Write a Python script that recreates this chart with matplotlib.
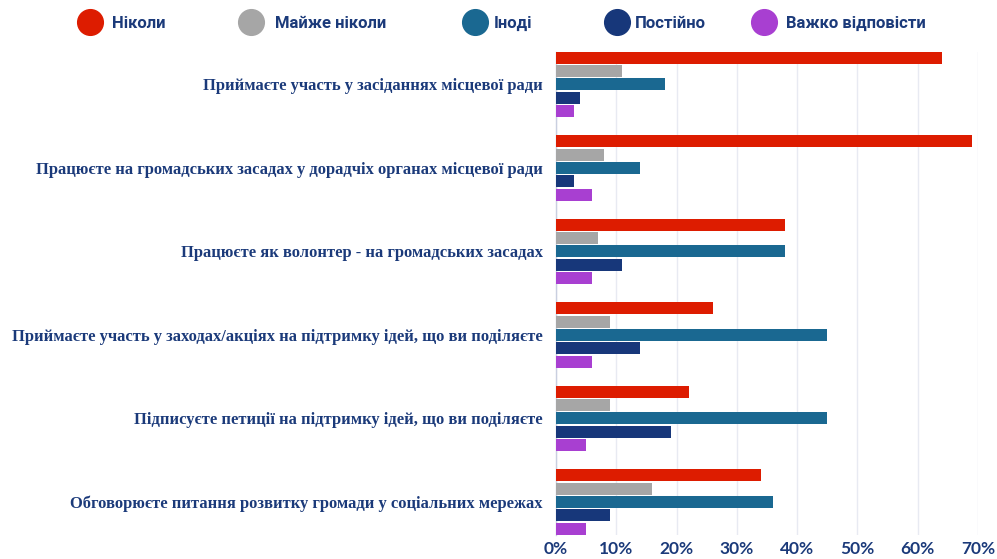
import numpy as np
import matplotlib
matplotlib.use('Agg')
import matplotlib.pyplot as plt
from matplotlib.lines import Line2D

# categories (top to bottom)
categories = [
    'Приймаєте участь у засіданнях місцевої ради',
    'Працюєте на громадських засадах у дорадчіх органах місцевої ради',
    'Працюєте як волонтер - на громадських засадах',
    'Приймаєте участь у заходах/акціях на підтримку ідей, що ви поділяєте',
    'Підписуєте петиції на підтримку ідей, що ви поділяєте',
    'Обговорюєте питання розвитку громади у соціальних мережах',
]

series_names = ['Ніколи', 'Майже ніколи', 'Іноді', 'Постійно', 'Важко відповісти']
nikoly = [64, 69, 38, 26, 22, 34]
mayzhe = [11, 8, 7, 9, 9, 16]
inodi = [18, 14, 38, 45, 45, 36]
postiyno = [4, 3, 11, 14, 19, 9]
vazhko = [3, 6, 6, 6, 5, 5]
series_values = [nikoly, mayzhe, inodi, postiyno, vazhko]

colors = ['#dd1c00', '#a6a6a6', '#1a6891', '#17377a', '#a83fd1']
xticks = [0, 10, 20, 30, 40, 50, 60, 70]
xtick_labels = ['0%', '10%', '20%', '30%', '40%', '50%', '60%', '70%']

text_color = '#1b3a7a'

fig = plt.figure(figsize=(9.97, 5.59), dpi=100)
ax = fig.add_axes([0.5577, 0.0438, 0.981 - 0.5577, 0.9073 - 0.0438])

pitch = 13.35 / 83.6
height = 12.0 / 83.6
y = np.arange(len(categories))
for i, (name, vals, c) in enumerate(zip(series_names, series_values, colors)):
    offs = (i - 2) * pitch
    ax.barh(y + offs, vals, height=height, color=c, label=name, zorder=3)

half = 2 * pitch + height / 2
ax.set_ylim(len(categories) - 1 + half, -half)
ax.set_xlim(0, 70)

ax.set_xticks(xticks)
ax.set_xticklabels(xtick_labels, fontfamily='Lato', fontweight='bold', fontsize=12.5, color=text_color)
ax.set_yticks(y)
ax.set_yticklabels(categories, fontfamily='Liberation Serif', fontweight='bold', fontsize=11.9, color=text_color)
ax.tick_params(axis='both', length=0)
ax.tick_params(axis='y', pad=9.4)
ax.tick_params(axis='x', pad=5)

ax.grid(axis='x', color='#e8eaf2', linewidth=1.0, zorder=0)
for s in ['top', 'right', 'bottom']:
    ax.spines[s].set_visible(False)
ax.spines['left'].set_color('#c9cfe0')
ax.spines['left'].set_linewidth(1)

# legend at the top, drawn by hand
leg_circle_x = [89.5, 250.5, 474.8, 616.6, 763.6]
leg_text_x = [112, 275, 494, 635, 786]
for cx, tx, name, c in zip(leg_circle_x, leg_text_x, series_names, colors):
    fig.add_artist(Line2D([cx / 997], [1 - 22 / 559], marker='o', markersize=18.5,
                          color=c, linestyle='none', transform=fig.transFigure))
    fig.text(tx / 997, 1 - 22 / 559, name, ha='left', va='center_baseline', fontfamily='Roboto',
             fontweight='bold', fontsize=12, color=text_color)

fig.savefig('out.png', dpi=100)
